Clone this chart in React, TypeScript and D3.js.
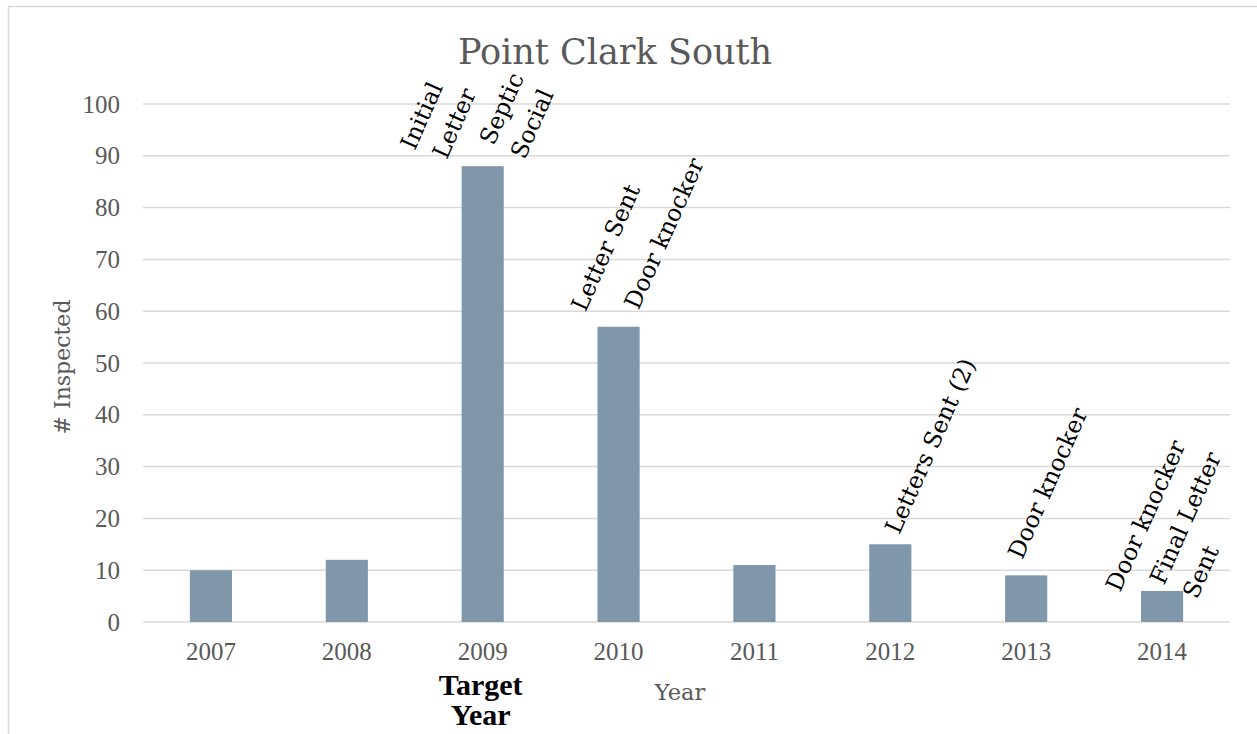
import React from 'react';
import * as d3 from 'd3';

const years = ['2007', '2008', '2009', '2010', '2011', '2012', '2013', '2014'];
const inspected = [10, 12, 88, 57, 11, 15, 9, 6];
const yTicks = [0, 10, 20, 30, 40, 50, 60, 70, 80, 90, 100];
const title = 'Point Clark South';
const yTitle = '# Inspected';
const xTitle = 'Year';
const targetYear = '2009';
const targetLines = ['Target', 'Year'];

const annotationYears = ['2009', '2010', '2012', '2013', '2014'];
const annotationLines = [
  ['Initial', 'Letter', 'Septic', 'Social'],
  ['Letter Sent', 'Door knocker'],
  ['Letters Sent (2)'],
  ['Door knocker'],
  ['Door knocker', 'Final Letter', 'Sent'],
];

// layout: per-line baseline start offsets relative to bar top-centre
const annotationOffsets: [number, number][][] = [
  [[-75, -18], [-43, -9], [4, -23], [35, -9]],
  [[-40, -17], [13, -19]],
  [[2, -12]],
  [[-11, -18]],
  [[-49, -1], [-5, -8], [28, 6]],
];
const annotationShift = [7, 3];

const W = 1257;
const H = 734;
const plot = { left: 143, right: 1230, top: 104, bottom: 622 };
const gray = '#595959';
const grid = '#d9d9d9';
const barColor = '#7f96ab';

export default function App() {
  const x = d3
    .scaleBand<string>()
    .domain(years)
    .range([plot.left, plot.right])
    .paddingInner(0.69)
    .paddingOuter(0.345);
  const y = d3.scaleLinear().domain([0, 100]).range([plot.bottom, plot.top]);
  const cx = (yr: string) => (x(yr) as number) + x.bandwidth() / 2;

  return (
    <svg
      width={W}
      height={H}
      style={{ position: 'absolute', left: 0, top: 0, background: '#fff' }}
    >
      <rect x={8.5} y={6.5} width={W + 20} height={H + 20} fill="#fff" stroke={grid} strokeWidth={1.5} />
      <text
        x={615}
        y={64}
        textAnchor="middle"
        fontFamily="DejaVu Serif"
        fontSize={35}
        fill={gray}
      >
        {title}
      </text>
      {yTicks.map((t) => (
        <g key={t}>
          <line x1={plot.left} x2={plot.right} y1={y(t)} y2={y(t)} stroke={grid} strokeWidth={1.5} />
          <text
            x={120}
            y={y(t)}
            dy="0.34em"
            textAnchor="end"
            fontFamily="Liberation Serif"
            fontSize={25}
            fill={gray}
          >
            {t}
          </text>
        </g>
      ))}
      {years.map((yr, i) => (
        <g key={yr}>
          <rect
            x={x(yr)}
            y={y(inspected[i])}
            width={x.bandwidth()}
            height={y(0) - y(inspected[i])}
            fill={barColor}
          />
          <text
            x={cx(yr)}
            y={660}
            textAnchor="middle"
            fontFamily="Liberation Serif"
            fontSize={25}
            fill={gray}
          >
            {yr}
          </text>
        </g>
      ))}
      {targetLines.map((l, i) => (
        <text
          key={l}
          x={cx(targetYear) - 2}
          y={695 + i * 30}
          textAnchor="middle"
          fontFamily="Liberation Serif"
          fontWeight="bold"
          fontSize={30}
          fill="#000"
        >
          {l}
        </text>
      ))}
      <text x={680} y={700} textAnchor="middle" fontFamily="DejaVu Serif" fontSize={22.5} fill={gray}>
        {xTitle}
      </text>
      <text
        transform={`translate(70,367) rotate(-90)`}
        textAnchor="middle"
        fontFamily="DejaVu Serif"
        fontSize={22}
        fill={gray}
      >
        {yTitle}
      </text>
      {annotationYears.map((yr, a) => {
        const i = years.indexOf(yr);
        const bx = cx(yr);
        const by = y(inspected[i]);
        return (
          <g key={yr}>
            {annotationLines[a].map((line, k) => {
              const [dx, dy] = annotationOffsets[a][k];
              return (
                <text
                  key={k}
                  transform={`translate(${bx + dx + annotationShift[0]},${by + dy + annotationShift[1]}) rotate(-66)`}
                  fontFamily="DejaVu Serif"
                  fontSize={23.5}
                  fill="#000"
                >
                  {line}
                </text>
              );
            })}
          </g>
        );
      })}
    </svg>
  );
}
